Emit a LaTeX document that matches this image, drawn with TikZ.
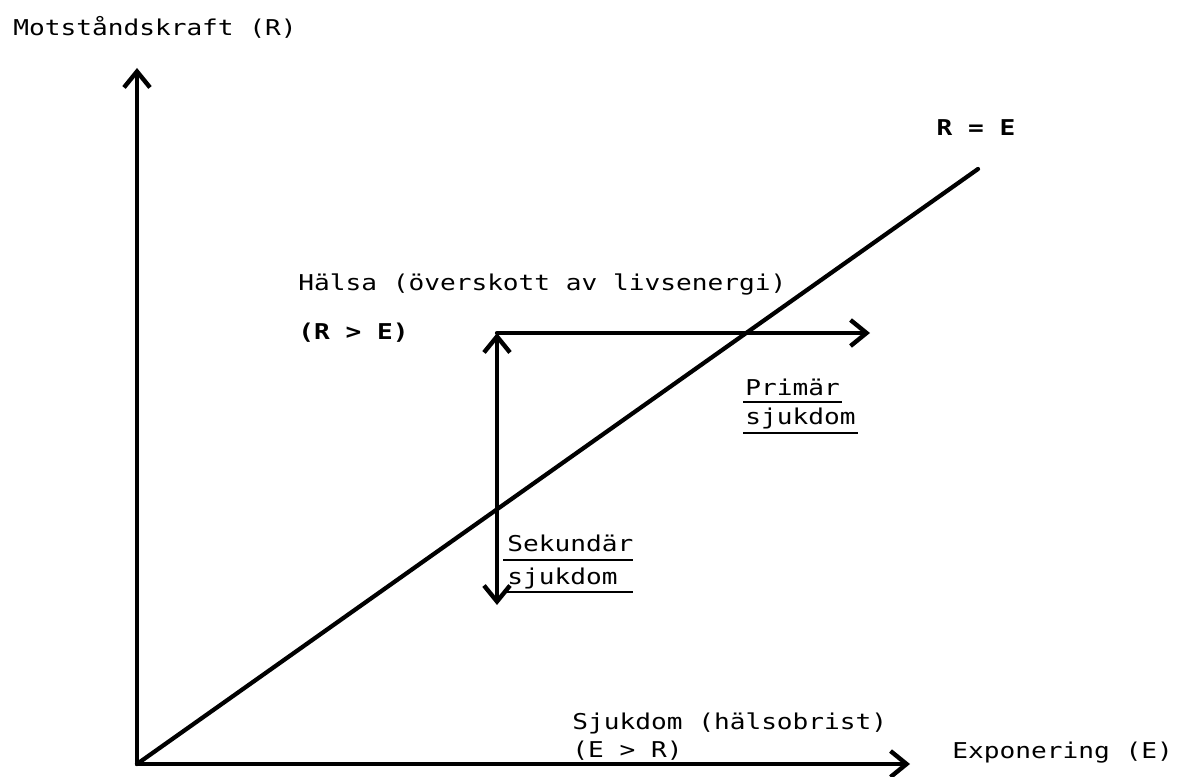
\documentclass[tikz,border=0pt]{standalone}
\usepackage{fontspec}
\usepackage{tikz}
\usetikzlibrary{arrows.meta,positioning}
\newfontfamily\plotfont[FakeStretch=1.2]{DejaVu Sans Mono}

\begin{document}
\begin{tikzpicture}[every node/.style={font=\plotfont\fontsize{12.4pt}{14pt}\selectfont, anchor=west, inner sep=0pt},
    heavy/.style={line width=2.4pt, line cap=round, line join=round},
    barb/.style={Straight Barb[length=0.32cm, width=0.52cm, line width=2.5pt]},
    arrowline/.style={heavy, -{Straight Barb[length=0.32cm, width=0.52cm, line width=2.5pt]}},
    bothline/.style={heavy, {Straight Barb[length=0.32cm, width=0.52cm, line width=2.5pt]}-{Straight Barb[length=0.32cm, width=0.52cm, line width=2.5pt]}},
    rule/.style={line width=1.4pt},
    boldlbl/.style={font=\plotfont\fontsize{12.4pt}{14pt}\selectfont\bfseries}]
  \useasboundingbox (-2.74,-0.24) rectangle (20.82,15.28);
  \coordinate (O) at (0,0);
  \coordinate (ytip) at (0,13.92);
  \coordinate (xtip) at (15.46,0);
  \coordinate (diagend) at (16.82,11.9);
  \coordinate (H) at (7.2,8.62);
  \coordinate (htip) at (14.66,8.62);
  \coordinate (vtip) at (7.2,3.18);
  % axes and the line R = E
  \draw[arrowline] (O) -- (ytip);
  \draw[arrowline] (O) -- (xtip);
  \draw[heavy] (O) -- (diagend);
  % arrows from the health point
  \draw[arrowline] (H) -- (htip);
  \draw[bothline] (H) -- (vtip);
  % labels
  \node (ylabel) at (-2.48,14.74) {Motståndskraft (R)};
  \node[boldlbl, anchor=center] (diaglabel) at (16.78,12.72) {R = E};
  \node (halsa) at (3.22,9.58) {Hälsa (överskott av livsenergi)};
  \node[boldlbl] (healthcond) at (3.22,8.62) {(R > E)};
  \node (prim1) at (12.16,7.54) {Primär};
  \node (prim2) at (12.16,6.92) {sjukdom};
  \draw[rule] (12.12,7.24) -- (14.1,7.24);
  \draw[rule] (12.12,6.62) -- (14.42,6.62);
  \node (sek1) at (7.4,4.42) {Sekundär};
  \node (sek2) at (7.4,3.72) {sjukdom};
  \draw[rule] (7.32,4.08) -- (9.92,4.08);
  \draw[rule] (7.32,3.44) -- (9.92,3.44);
  \node (sjuk) at (8.7,0.82) {Sjukdom (hälsobrist)};
  \node (sickcond) at (8.7,0.26) {(E > R)};
  \node (xlabel) at (16.3,0.22) {Exponering (E)};
\end{tikzpicture}
\end{document}
